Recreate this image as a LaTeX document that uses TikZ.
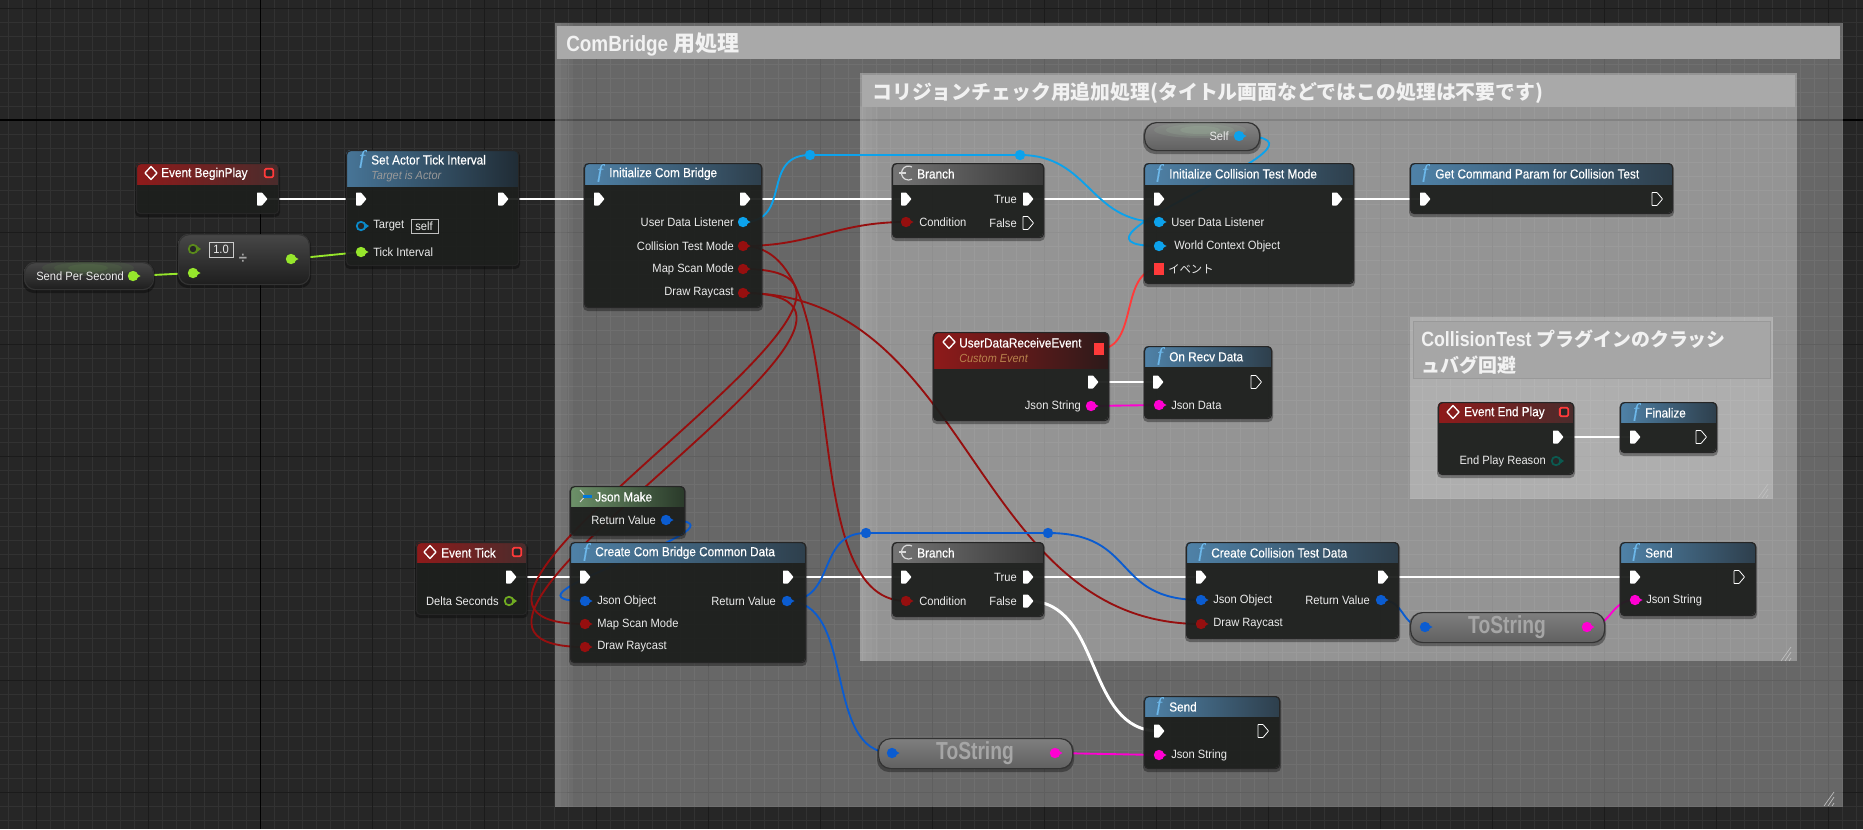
\documentclass[tikz,border=0pt]{standalone}
\usepackage{fontspec}
\usetikzlibrary{calc}
\setmainfont[FakeStretch=0.93]{Liberation Sans}
\newfontfamily\jpf{Noto Sans CJK JP}
\newfontfamily\hdf[FakeBold=0.4,FakeStretch=0.9]{Liberation Sans}
\newfontfamily\srf[FakeBold=0.3]{Liberation Serif}
\newfontfamily\narf[FakeStretch=0.78]{Liberation Sans}
\newfontfamily\ttlf[FakeStretch=0.86]{Liberation Sans}
\definecolor{bggrid}{HTML}{262626}
\definecolor{minorl}{HTML}{323232}
\definecolor{majorl}{HTML}{1B1B1B}
\definecolor{bodyc}{HTML}{1E201E}
\definecolor{redw}{HTML}{960F0F}
\definecolor{brightred}{HTML}{FF3A3A}
\definecolor{lblue}{HTML}{0CA2EC}
\definecolor{dblue}{HTML}{0B5CD0}
\definecolor{magw}{HTML}{FF00D2}
\definecolor{greenw}{HTML}{96E62C}
\definecolor{tealp}{HTML}{0B5A50}
\definecolor{titlec}{HTML}{A9A9A9}
\definecolor{fblue}{HTML}{6DB8EA}
\definecolor{hblue}{HTML}{4F82A8}
\definecolor{hblueb}{HTML}{2E3F4C}
\definecolor{hred}{HTML}{8F1A1A}
\definecolor{hredb}{HTML}{4A2C2C}
\definecolor{hgray}{HTML}{747474}
\definecolor{hgrayb}{HTML}{383838}
\definecolor{hgreen}{HTML}{6D9169}
\definecolor{hgreenb}{HTML}{2A3A2A}
\definecolor{glowa}{HTML}{5F8A4A}
\definecolor{glowb}{HTML}{A5C2A5}
\tikzset{
  x=0.75pt,y=-0.75pt,
  wire/.style={line width=1.4pt,line cap=round},
  execw/.style={white,line width=2.2pt},
  frameb/.style={draw=black!85,line width=0.9pt,rounded corners=3pt,inner sep=0pt,anchor=north west},
  lab/.style={text=white!92!black,inner sep=0pt,font=\fontsize{9}{10}\selectfont},
  headt/.style={text=white,inner sep=0pt,anchor=west,font=\hdf\fontsize{9.8}{11}\selectfont},
  subt/.style={inner sep=0pt,anchor=west,font=\itshape\fontsize{8.8}{10}\selectfont},
  commentt/.style={text=white!95!black,inner sep=0pt,anchor=west,font=\ttlf\bfseries\fontsize{16.5}{19}\selectfont},
  tostr/.style={text=black!35,inner sep=0pt,font=\narf\bfseries\fontsize{18.5}{19}\selectfont}
}
\newcounter{lc}
\newcommand{\lbl}[3]{\stepcounter{lc}\node[lab,anchor=west] (lab\arabic{lc}) at (#1,#2) {#3};}
\newcommand{\lbr}[3]{\stepcounter{lc}\node[lab,anchor=east] (lab\arabic{lc}) at (#1,#2) {#3};}
\newcommand{\htx}[3]{\stepcounter{lc}\node[headt] (lab\arabic{lc}) at (#1,#2+.8) {#3};}
\newcommand{\stx}[4]{\stepcounter{lc}\node[subt,text=#4] (lab\arabic{lc}) at (#1,#2) {#3};}
% box: name x1 y1 x2 y2 yh colL colR
\newcommand{\bpbox}[8]{%
  \fill[black,opacity=.35,rounded corners=3.5pt] (#2-1,#3+1) rectangle (#4+2,#5+4);
  \fill[bodyc,fill opacity=.92,rounded corners=3pt] (#2,#3) rectangle (#4,#5);
  \begin{scope}\clip[rounded corners=3pt] (#2,#3) rectangle (#4,#5);
    \shade[left color=#7,right color=#8] (#2,#3) rectangle (#4,#6);
  \end{scope}
  \pgfmathsetmacro\bw{(#4-#2)*.75}\pgfmathsetmacro\bh{(#5-#3)*.75}
  \node[frameb,minimum width=\bw pt,minimum height=\bh pt] (#1) at (#2,#3) {};
}
% pill: name x1 y1 x2 y2 radius top bottom
\newcommand{\pill}[8]{%
  \fill[black,opacity=.35,rounded corners=#6pt] (#2-1,#3+1) rectangle (#4+2,#5+4);
  \shade[top color=#7,bottom color=#8,rounded corners=#6pt] (#2,#3) rectangle (#4,#5);
  \pgfmathsetmacro\bw{(#4-#2)*.75}\pgfmathsetmacro\bh{(#5-#3)*.75}
  \node[draw=black!80,line width=0.9pt,rounded corners=#6pt,inner sep=0pt,anchor=north west,minimum width=\bw pt,minimum height=\bh pt] (#1) at (#2,#3) {};
}
% soft glow inside a pill: x1 y1 x2 y2 radius cx cy colour
\newcommand{\glow}[8]{%
  \begin{scope}\clip[rounded corners=#5pt] (#1,#2) rectangle (#3,#4);
  \fill[#8,opacity=.14] (#6,#7) ellipse[x radius=46,y radius=8];
  \fill[#8,opacity=.16] (#6,#7) ellipse[x radius=34,y radius=6];
  \fill[#8,opacity=.2] (#6,#7) ellipse[x radius=20,y radius=4];
  \end{scope}}
\newcommand{\exe}[1]{\begin{scope}[shift={(#1)}]\fill[white,rounded corners=.4pt] (-5,-6.5) -- (0,-6.5) -- (5.5,0) -- (0,6.5) -- (-5,6.5) -- cycle;\end{scope}}
\newcommand{\exh}[1]{\begin{scope}[shift={(#1)}]\draw[white,line width=.6pt,rounded corners=.4pt] (-5,-6.5) -- (0,-6.5) -- (5.5,0) -- (0,6.5) -- (-5,6.5) -- cycle;\end{scope}}
\newcommand{\dat}[2]{\begin{scope}[shift={(#1)}]\fill[#2] (0,-4.2) -- (7.5,0) -- (0,4.2) -- cycle;\fill[#2] (0,0) circle[radius=3.9pt];\end{scope}}
\newcommand{\dah}[2]{\begin{scope}[shift={(#1)}]\fill[#2] (3,-3.5) -- (8,0) -- (3,3.5) -- cycle;\draw[#2,line width=1.3pt,fill=black!85] (0,0) circle[radius=3.2pt];\end{scope}}
\newcommand{\sqf}[1]{\fill[brightred] ($(#1)+(-5,-6)$) rectangle ($(#1)+(5,6)$);}
\newcommand{\sqh}[1]{\draw[brightred,line width=1.4pt,fill=black!85,rounded corners=1pt] ($(#1)+(-4.2,-4.2)$) rectangle ($(#1)+(4.2,4.2)$);}
\newcommand{\wirec}[4]{\draw[wire,#1] (#2) .. controls ($(#2)+(#4,0)$) and ($(#3)+(-#4,0)$) .. (#3);}
\newcommand{\fic}[2]{\stepcounter{lc}\node[text=fblue,inner sep=0pt,font=\srf\itshape\fontsize{14.5}{14}\selectfont] (lab\arabic{lc}) at (#1,#2) {f};}
\newcommand{\evic}[2]{\draw[white,line width=1pt,line join=round] (#1-6,#2) -- (#1,#2-6.5) -- (#1+6,#2) -- (#1,#2+6.5) -- cycle;}
\newcommand{\brancic}[2]{\draw[white!85!black,line width=.9pt] (#1+4,#2-6) arc[start angle=-60,end angle=-300,radius=7]; \draw[white!85!black,line width=.9pt] (#1-9,#2) -- (#1-2,#2);}
\newcommand{\handle}[2]{\draw[white!75!black,line width=.5pt] (#1-9,#2+7) -- (#1+1,#2-7) (#1-5,#2+7) -- (#1+1,#2-2) (#1-1,#2+7) -- (#1+1,#2+4);}
\newcommand{\edgeglow}[4]{\fill[white,fill opacity=.035] (#1,#2) rectangle (#1+18,#4);\fill[white,fill opacity=.035] (#1,#2) rectangle (#1+12,#4);\fill[white,fill opacity=.035] (#1,#2) rectangle (#1+6,#4);}
\begin{document}
\begin{tikzpicture}
\useasboundingbox (0,0) rectangle (1863,829);
\fill[bggrid] (0,0) rectangle (1863,829);
% grid
\foreach \i in {0,...,133}{\draw[minorl,line width=.55pt] ({8.3+14*\i},0) -- ({8.3+14*\i},829);}
\foreach \i in {0,...,59}{\draw[minorl,line width=.55pt] (0,{8+14*\i}) -- (1863,{8+14*\i});}
\foreach \i in {0,...,16}{\draw[majorl,line width=.7pt] ({36.3+112*\i},0) -- ({36.3+112*\i},829);}
\foreach \i in {0,...,7}{\draw[majorl,line width=.7pt] (0,{8+112*\i}) -- (1863,{8+112*\i});}
\draw[black,line width=.9pt] (260.3,0) -- (260.3,829);
\draw[black,line width=.9pt] (0,120) -- (1863,120);
% comment boxes
\fill[white,fill opacity=.3] (555,23) rectangle (1843,807);
\edgeglow{555}{23}{0}{807}
\fill[titlec] (557,26) rectangle (1840,59);
\fill[white,fill opacity=.3] (860,73) rectangle (1797,661);
\edgeglow{860}{107}{0}{661}
\fill[titlec] (862,75) rectangle (1795,107);
\fill[white,fill opacity=.25] (1410,317) rectangle (1773,499);
\fill[black!35,draw=black!40,line width=.5pt] (1413,321) rectangle (1770,378);
\handle{1833}{799}\handle{1790}{654}\handle{1767}{491}
\stepcounter{lc}\node[commentt] (lab\arabic{lc}) at (566,44) {ComBridge {\jpf 用処理}};
\stepcounter{lc}\node[commentt,font=\jpf\bfseries\fontsize{14.9}{19}\selectfont] (lab\arabic{lc}) at (872,93) {コリジョンチェック用追加処理(タイトル画面などではこの処理は不要です)};
\stepcounter{lc}\node[commentt,font=\ttlf\bfseries\fontsize{15.5}{20}\selectfont,align=left] (lab\arabic{lc}) at (1421,352) {CollisionTest {\jpf\fontsize{14.2}{20}\selectfont プラグインのクラッシ}\\{\jpf\fontsize{14.2}{20}\selectfont ュバグ回避}};
% pins
\coordinate (beginOut) at (262,199);
\coordinate (setIn) at (361,199); \coordinate (setOut) at (503,199);
\coordinate (setTarget) at (361,226); \coordinate (setTick) at (361,252);
\coordinate (divA) at (193,249); \coordinate (divB) at (193,273); \coordinate (divOut) at (291,259);
\coordinate (spsOut) at (133,276);
\coordinate (ibIn) at (599,199); \coordinate (ibOut) at (745,199);
\coordinate (ibUser) at (743,222); \coordinate (ibColl) at (743,246); \coordinate (ibMap) at (743,269); \coordinate (ibDraw) at (743,293);
\coordinate (br1In) at (906,199); \coordinate (br1Cond) at (906,222); \coordinate (br1T) at (1028,199); \coordinate (br1F) at (1028,223);
\coordinate (icIn) at (1159,199); \coordinate (icOut) at (1337,199);
\coordinate (icUser) at (1159,222); \coordinate (icWorld) at (1159,246); \coordinate (icEv) at (1159,269);
\coordinate (selfOut) at (1239,136);
\coordinate (gcIn) at (1425,199); \coordinate (gcOut) at (1657,199);
\coordinate (rerA) at (810,155); \coordinate (rerB) at (1020,155);
\coordinate (udSq) at (1099,349); \coordinate (udOut) at (1093,382); \coordinate (udJson) at (1091,406);
\coordinate (orIn) at (1158,382); \coordinate (orOut) at (1256,382); \coordinate (orJson) at (1159,405);
\coordinate (epSq) at (1564,412); \coordinate (epOut) at (1558,437); \coordinate (epReason) at (1556,461);
\coordinate (fnIn) at (1635,437); \coordinate (fnOut) at (1701,437);
\coordinate (bpSq) at (269,173); \coordinate (etSq) at (517,552);
\coordinate (jmOut) at (666,520);
\coordinate (etOut) at (511,577); \coordinate (etDelta) at (509,601);
\coordinate (ccIn) at (585,577); \coordinate (ccOut) at (788,577); \coordinate (ccJson) at (585,601); \coordinate (ccMap) at (585,624); \coordinate (ccDraw) at (585,647); \coordinate (ccRet) at (787,601);
\coordinate (br2In) at (906,577); \coordinate (br2Cond) at (906,601); \coordinate (br2T) at (1028,577); \coordinate (br2F) at (1028,601);
\coordinate (rerC) at (866,533); \coordinate (rerD) at (1048,533);
\coordinate (tsaIn) at (892,753); \coordinate (tsaOut) at (1055,753);
\coordinate (ctIn) at (1201,577); \coordinate (ctOut) at (1383,577); \coordinate (ctJson) at (1201,600); \coordinate (ctDraw) at (1201,624); \coordinate (ctRet) at (1381,600);
\coordinate (tsbIn) at (1425,627); \coordinate (tsbOut) at (1587,627);
\coordinate (saIn) at (1635,577); \coordinate (saOut) at (1739,577); \coordinate (saJson) at (1635,600);
\coordinate (sbIn) at (1159,731); \coordinate (sbOut) at (1263,731); \coordinate (sbJson) at (1159,755);
% wires
\foreach \a/\b in {beginOut/setIn,setOut/ibIn,ibOut/br1In,br1T/icIn,icOut/gcIn,udOut/orIn,epOut/fnIn,etOut/ccIn,ccOut/br2In,br2T/ctIn,ctOut/saIn}{\draw[execw] (\a) -- (\b);}
\wirec{execw}{br2F}{sbIn}{75}
\draw[wire,greenw] (spsOut) -- (divB);
\draw[wire,greenw] (divOut) -- (setTick);
\wirec{redw}{ibColl}{br1Cond}{70}
\wirec{redw}{ibColl}{br2Cond}{117}
\wirec{redw}{ibMap}{ccMap}{235}
\wirec{redw}{ibDraw}{ccDraw}{235}
\wirec{redw}{ibDraw}{ctDraw}{230}
\wirec{lblue}{ibUser}{rerA}{50}
\draw[wire,lblue] (rerA) -- (rerB);
\wirec{lblue}{rerB}{icUser}{70}
\wirec{lblue}{selfOut}{icWorld}{130}
\wirec{brightred}{udSq}{icEv}{40}
\draw[wire,magw] (udJson) -- (orJson);
\wirec{dblue}{jmOut}{ccJson}{110}
\wirec{dblue}{ccRet}{rerC}{50}
\draw[wire,dblue] (rerC) -- (rerD);
\wirec{dblue}{rerD}{ctJson}{90}
\wirec{dblue}{ccRet}{tsaIn}{70}
\draw[wire,magw] (tsaOut) -- (sbJson);
\wirec{dblue}{ctRet}{tsbIn}{25}
\wirec{magw}{tsbOut}{saJson}{25}
\foreach \a in {rerA,rerB}{\fill[lblue] (\a) circle[radius=3.9pt];}
\foreach \a in {rerC,rerD}{\fill[dblue] (\a) circle[radius=3.9pt];}
% ---- nodes
% Send Per Second
\pill{sps}{24}{262}{153}{289}{8}{black!72}{black!88}
\glow{24}{262}{153}{289}{8}{88}{268}{glowa}
\lbr{124}{276}{Send Per Second}
% divide
\pill{divn}{178}{234}{309}{284}{8}{black!72}{black!88}
\draw[white!80!black,line width=.6pt] (209,242) rectangle (233,257);
\lbl{213}{249.5}{1.0}
\stepcounter{lc}\node[text=white!65!black,inner sep=0pt,font=\bfseries\fontsize{12}{12}\selectfont] (lab\arabic{lc}) at (243,259) {÷};
% Begin play
\bpbox{beginplay}{136}{163}{278}{213}{184}{hred}{hredb}
\evic{151}{173}\htx{161}{173}{Event BeginPlay}
% set actor
\bpbox{setactor}{346}{150}{518}{265}{186}{hblue!90!black}{hblueb!70!black}
\fic{362}{159}\htx{371}{159}{Set Actor Tick Interval}
\stx{371}{176}{Target is Actor}{white!60!black}
\lbl{373}{226}{Target}
\draw[white!75!black,line width=.6pt] (411,219) rectangle (438,233);
\lbl{415}{226}{self}
\lbl{373}{252}{Tick Interval}
% initialize com bridge
\bpbox{initcom}{584}{163}{761}{307}{184}{hblue}{hblueb}
\fic{600}{173}\htx{609}{173}{Initialize Com Bridge}
\lbr{734}{222}{User Data Listener}\lbr{734}{246}{Collision Test Mode}\lbr{734}{269}{Map Scan Mode}\lbr{734}{293}{Draw Raycast}
% branch 1
\bpbox{branchA}{892}{163}{1043}{237}{184}{hgray}{hgrayb}
\brancic{908}{173}\htx{917}{173}{Branch}
\lbl{919}{222}{Condition}\lbr{1017}{199}{True}\lbr{1017}{223}{False}
% Self
\pill{selfn}{1144}{122}{1259}{150}{9}{black!48}{black!62}
\glow{1144}{122}{1259}{150}{9}{1200}{130}{glowb}
\lbr{1229}{136}{Self}
% Init collision
\bpbox{initcol}{1144}{163}{1353}{283}{184}{hblue}{hblueb}
\fic{1159}{173}\htx{1169}{173}{Initialize Collision Test Mode}
\lbl{1171}{222}{User Data Listener}\lbl{1174}{246}{World Context Object}\lbl{1168}{269}{{\jpf\fontsize{8.5}{10}\selectfont イベント}}
% Get command
\bpbox{getcmd}{1410}{163}{1672}{213}{184}{hblue}{hblueb}
\fic{1425}{173}\htx{1435}{173}{Get Command Param for Collision Test}
% custom event
\bpbox{udre}{933}{332}{1108}{420}{368}{hred}{hredb!60!black}
\evic{949}{342}\htx{959}{342}{UserDataReceiveEvent}
\stx{959}{358}{Custom Event}{orange!60!black!70!white}
\lbr{1081}{406}{Json String}
% on recv
\bpbox{onrecv}{1144}{346}{1271}{418}{366}{hblue}{hblueb}
\fic{1160}{356}\htx{1169}{356}{On Recv Data}
\lbl{1171}{405}{Json Data}
% end play
\bpbox{endplay}{1438}{402}{1573}{474}{422}{hred}{hredb}
\evic{1453}{412}\htx{1464}{412}{Event End Play}
\lbr{1546}{461}{End Play Reason}
% finalize
\bpbox{finalize}{1620}{402}{1716}{452}{422}{hblue}{hblueb}
\fic{1636}{412}\htx{1645}{412}{Finalize}
% Json make
\bpbox{jsonmake}{570}{486}{684}{535}{506}{hgreen}{hgreenb}
\draw[white!85!black,line width=.7pt] (580,490) -- (584,494.5) (580,502) -- (584,497.5);
\fill[blue!45!cyan!85!black] (583,494.5) rectangle (592,497.5);
\htx{595}{496}{Json Make}
\lbr{656}{520}{Return Value}
% event tick
\bpbox{evtick}{416}{542}{526}{614}{562}{hred}{hredb}
\evic{430}{552}\htx{441}{552}{Event Tick}
\lbr{499}{601}{Delta Seconds}
% create com bridge
\bpbox{createcom}{570}{542}{805}{662}{562}{hblue}{hblueb}
\fic{586}{552}\htx{595}{552}{Create Com Bridge Common Data}
\lbl{597}{601}{Json Object}\lbl{597}{624}{Map Scan Mode}\lbl{597}{647}{Draw Raycast}
\lbr{776}{601}{Return Value}
% branch 2
\bpbox{branchB}{892}{542}{1043}{616}{562}{hgray}{hgrayb}
\brancic{908}{552}\htx{917}{552}{Branch}
\lbl{919}{601}{Condition}\lbr{1017}{577}{True}\lbr{1017}{601}{False}
% ToString A
\pill{tostrA}{878}{738}{1072}{768}{9}{black!50}{black!62}
\stepcounter{lc}\node[tostr] (lab\arabic{lc}) at (975,753) {ToString};
% send low
\bpbox{sendB}{1144}{696}{1279}{768}{716}{hblue}{hblueb}
\fic{1159}{706}\htx{1169}{706}{Send}
\lbl{1171}{755}{Json String}
% create collision
\bpbox{createcol}{1186}{542}{1398}{638}{562}{hblue}{hblueb}
\fic{1201}{552}\htx{1211}{552}{Create Collision Test Data}
\lbl{1213}{600}{Json Object}\lbl{1213}{624}{Draw Raycast}\lbr{1370}{600}{Return Value}
% ToString B
\pill{tostrB}{1410}{612}{1604}{642}{9}{black!50}{black!62}
\stepcounter{lc}\node[tostr] (lab\arabic{lc}) at (1507,627) {ToString};
% send top
\bpbox{sendA}{1620}{542}{1755}{615}{562}{hblue}{hblueb}
\fic{1635}{552}\htx{1645}{552}{Send}
\lbl{1646}{600}{Json String}
% pins drawn
\foreach \p in {beginOut,setIn,setOut,ibIn,ibOut,br1In,br1T,icIn,icOut,gcIn,udOut,orIn,epOut,fnIn,etOut,ccIn,ccOut,br2In,br2T,br2F,ctIn,ctOut,saIn,sbIn}{\exe{\p}}
\foreach \p in {br1F,gcOut,orOut,fnOut,saOut,sbOut}{\exh{\p}}
\foreach \p in {spsOut,divB,divOut,setTick}{\dat{\p}{greenw}}
\dah{divA}{greenw!60!black}\dah{etDelta}{greenw!75!black}
\dah{setTarget}{lblue!85!black}
\foreach \p in {ibUser,icUser,icWorld,selfOut}{\dat{\p}{lblue}}
\foreach \p in {ibColl,ibMap,ibDraw,br1Cond,br2Cond,ccMap,ccDraw,ctDraw}{\dat{\p}{redw}}
\foreach \p in {jmOut,ccJson,ccRet,ctJson,ctRet,tsaIn,tsbIn}{\dat{\p}{dblue}}
\foreach \p in {udJson,orJson,tsaOut,sbJson,tsbOut,saJson}{\dat{\p}{magw}}
\dah{epReason}{tealp}
\sqf{udSq}\sqf{icEv}\sqh{bpSq}\sqh{etSq}\sqh{epSq}
\end{tikzpicture}
\end{document}
